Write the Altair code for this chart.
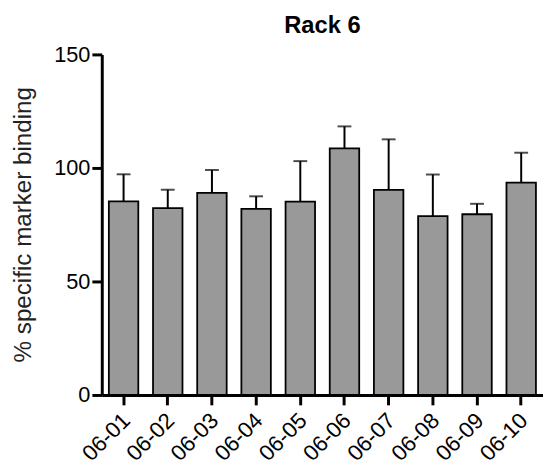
import altair as alt
import pandas as pd

categories = ["06-01", "06-02", "06-03", "06-04", "06-05",
              "06-06", "06-07", "06-08", "06-09", "06-10"]
means = [85.3, 82.3, 89.0, 82.0, 85.2, 108.6, 90.3, 78.8, 79.6, 93.5]
errors = [11.9, 8.1, 10.1, 5.5, 17.8, 9.7, 22.3, 18.3, 4.6, 13.2]
y_ticks = [0, 50, 100, 150]

df = pd.DataFrame({"cat": categories, "mean": means, "err": errors})
df["upper"] = df["mean"] + df["err"]

FONT = "Liberation Sans"

x = alt.X("cat:N", sort=categories,
          scale=alt.Scale(paddingInner=0.333, paddingOuter=0.16),
          axis=alt.Axis(title=None, labelAngle=-45, labelAlign="right",
                        labelBaseline="middle", labelPadding=12, labelOffset=3,
                        labelFontSize=22.5, labelFont=FONT, labelColor="black"))
y_scale = alt.Scale(domain=[0, 150], nice=False)

bars = alt.Chart(df).mark_bar(color="#999999", stroke="black", strokeWidth=1.8).encode(
    x=x,
    y=alt.Y("mean:Q", scale=y_scale,
            axis=alt.Axis(values=y_ticks, title="% specific marker binding",
                          titleFontSize=24.5, titleFont=FONT, titleFontWeight="normal",
                          titleColor="#222222", titleX=-67, titleY=172,
                          titleAngle=-90, titleAlign="center", titleBaseline="bottom",
                          labelFontSize=22, labelFont=FONT, labelColor="black",
                          labelPadding=2)),
)

rules = alt.Chart(df).mark_rule(color="black", strokeWidth=2).encode(
    x=alt.X("cat:N", sort=categories),
    y=alt.Y("mean:Q", scale=y_scale),
    y2="upper:Q",
)

caps = alt.Chart(df).mark_tick(color="black", thickness=2, size=14).encode(
    x=alt.X("cat:N", sort=categories),
    y=alt.Y("upper:Q", scale=y_scale),
)

chart = (bars + rules + caps).properties(
    width=447, height=345,
    title=alt.TitleParams("Rack 6", fontSize=24, font=FONT, fontWeight="bold",
                          anchor="middle", offset=6, color="black"),
    autosize=alt.AutoSizeParams(type="none"),
    padding={"left": 95, "top": 44, "right": 0, "bottom": 74},
).configure_view(stroke=None).configure_axis(
    grid=False, domainColor="black", domainWidth=3, tickColor="black",
    tickWidth=3, tickSize=10,
)

chart.save("out.html", embed_options={"renderer": "svg", "actions": False})
